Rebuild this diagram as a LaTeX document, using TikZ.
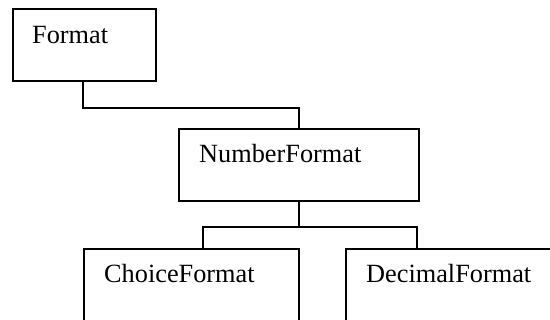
\documentclass[tikz,border=0pt]{standalone}
\usepackage{fontspec}
\setmainfont{Liberation Serif}
\begin{document}
\begin{tikzpicture}[x=1pt,y=-1pt,
  box/.style={draw=black,line width=1.8pt,rectangle,inner sep=0pt,anchor=north west},
  lbl/.style={anchor=base west,inner sep=0pt,font=\fontsize{26.3}{30}\selectfont},
  conn/.style={draw=black,line width=1.8pt}]
\useasboundingbox (0,0) rectangle (550,320);
\clip (0,0) rectangle (550,320);
\node[box,minimum width=143pt,minimum height=72pt] (fmt) at (12,8) {};
\node[lbl] (fmtl) at ([xshift=20pt,yshift=-36pt]fmt.north west) {Format};
\node[box,minimum width=240pt,minimum height=72pt] (nf) at (178,128) {};
\node[lbl] (nfl) at ([xshift=21pt,yshift=-35pt]nf.north west) {NumberFormat};
\node[box,minimum width=215pt,minimum height=110pt] (cf) at (83,248) {};
\node[lbl] (cfl) at ([xshift=21pt,yshift=-35pt]cf.north west) {ChoiceFormat};
\node[box,minimum width=215pt,minimum height=110pt] (df) at (345,248) {};
\node[lbl] (dfl) at ([xshift=21pt,yshift=-35pt]df.north west) {DecimalFormat};
\coordinate (j1) at ([xshift=71pt,yshift=-26pt]fmt.south west);
\coordinate (bus) at ([yshift=-25pt]nf.south);
\draw[conn] ([xshift=71pt]fmt.south west) -- (j1) -| (nf.north);
\draw[conn] (nf.south) -- (bus);
\draw[conn] ([xshift=120pt]cf.north west) |- (bus) -| ([xshift=72pt]df.north west);
\end{tikzpicture}
\end{document}
